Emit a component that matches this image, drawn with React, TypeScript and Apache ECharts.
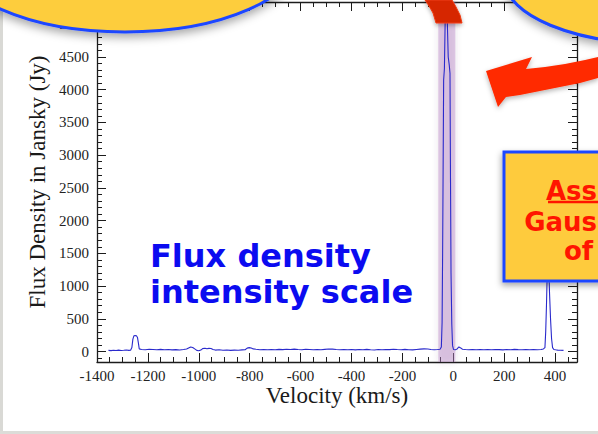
import React, { useEffect, useRef } from 'react';
import * as echarts from 'echarts';

// Spectrum: velocity (km/s) and flux density (Jy)
const velocity = [
  -1355, -1345, -1335, -1325, -1315, -1305, -1295, -1285, -1275, -1268,
  -1263, -1259, -1255, -1250, -1245, -1241, -1237, -1234,
  -1225, -1210, -1195, -1180, -1165, -1150, -1135, -1120, -1105, -1090, -1075, -1060,
  -1048, -1040, -1032, -1024, -1016, -1008, -1000, -992, -985, -976, -968, -960, -952, -944,
  -935, -920, -905, -890, -875, -860, -845, -830, -818, -810, -802, -794, -786, -775,
  -760, -745, -730, -715, -700, -685, -670, -655, -640, -625, -610, -595, -580, -565,
  -550, -535, -520, -505, -490, -475, -460, -445, -430, -415, -400, -385, -370, -355,
  -340, -325, -310, -295, -280, -265, -250, -235, -220, -205, -190, -175, -160, -145,
  -130, -115, -100, -88, -75, -62, -52,
  -47, -44, -42, -40, -38, -35, -32, -28, -24, -20, -16, -13, -11, -9, -6, -3,
  1, 8, 15, 22, 29, 36, 48, 60, 75, 90, 105, 120, 135, 150, 165, 180, 195, 210,
  225, 240, 255, 270, 285, 300, 315, 330, 345, 354,
  360, 363, 366, 369, 372, 375, 378, 382, 386, 390, 395, 402, 410, 420, 433,
];
const flux = [
  18, 14, 20, 16, 22, 15, 19, 24, 17, 20,
  60, 190, 240, 245, 240, 215, 120, 40,
  32, 28, 34, 30, 26, 33, 27, 31, 25, 29, 24, 30,
  38, 55, 70, 62, 40, 18, 12, 22, 45, 50, 42, 48, 46, 30,
  22, 26, 20, 24, 18, 22, 19, 25, 28, 52, 60, 55, 40, 34,
  28, 32, 26, 30, 27, 33, 29, 34, 30, 36, 31, 28, 34, 30,
  26, 32, 28, 33, 38, 36, 30, 26, 32, 28, 30, 25, 31, 27,
  33, 28, 24, 30, 26, 32, 29, 34, 30, 27, 33, 28, 25, 31,
  36, 40, 38, 30, 26, 30, 34,
  70, 450, 1500, 2800, 4150, 4320, 5050, 5180, 5100, 4500, 4380, 4250, 2600, 1200, 420, 90,
  30, 28, 40, 70, 55, 35, 30, 26, 32, 28, 31, 26, 30, 27, 32, 29, 25, 30,
  27, 33, 29, 26, 30, 27, 31, 26, 30, 40,
  60, 300, 700, 1200, 1700, 1300, 900, 500, 200, 60, 30, 26, 22, 20, 18,
];

const xMajorTicks = [-1400, -1200, -1000, -800, -600, -400, -200, 0, 200, 400];
const yMajorTicks = [0, 500, 1000, 1500, 2000, 2500, 3000, 3500, 4000, 4500, 5000];
const X_MIN = -1400;
const X_MAX = 486;
const Y_MIN = -160;
const Y_MAX = 5340;
const X_MINOR_STEP = 50;
const Y_MINOR_STEP = 100;

// Highlighted velocity band (km/s)
const bandFrom = -59;
const bandTo = 8;

const xMinorTicks: number[] = [];
for (let v = X_MIN; v < X_MAX; v += X_MINOR_STEP) xMinorTicks.push(v);
const yMinorTicks: number[] = [];
for (let v = -100; v < Y_MAX; v += Y_MINOR_STEP) yMinorTicks.push(v);

const INK = '#1c1c1c';
const labelFont = { fontFamily: '"Liberation Serif", "Times New Roman", serif', fontSize: 15, color: '#222' };
const nameFont = { fontFamily: '"Liberation Serif", "Times New Roman", serif', fontSize: 23, color: '#1a1a1a' };

function mkX(position: 'top' | 'bottom', major: boolean, labels: boolean) {
  return {
    type: 'value',
    min: X_MIN,
    max: X_MAX,
    position,
    gridIndex: 0,
    name: labels ? 'Velocity (km/s)' : '',
    nameLocation: 'middle',
    nameGap: 22,
    nameMoveOverlap: false,
    nameTextStyle: nameFont,
    axisLine: { show: major, onZero: false, lineStyle: { color: INK, width: 1.3 } },
    axisTick: {
      show: true,
      inside: true,
      length: major ? 9 : 5,
      customValues: major ? xMajorTicks : xMinorTicks,
      lineStyle: { color: INK, width: 1 },
    },
    axisLabel: {
      show: labels,
      customValues: xMajorTicks,
      formatter: (v: number) => String(v),
      margin: 6,
      ...labelFont,
    },
    splitLine: { show: false },
  };
}

function mkY(position: 'left' | 'right', major: boolean, labels: boolean) {
  return {
    type: 'value',
    min: Y_MIN,
    max: Y_MAX,
    position,
    gridIndex: 0,
    name: labels ? 'Flux Density in Jansky (Jy)' : '',
    nameLocation: 'middle',
    nameGap: 48,
    nameMoveOverlap: false,
    nameTextStyle: nameFont,
    axisLine: { show: major, onZero: false, lineStyle: { color: INK, width: 1.3 } },
    axisTick: {
      show: true,
      inside: true,
      length: major ? 9 : 5,
      customValues: major ? yMajorTicks : yMinorTicks,
      lineStyle: { color: INK, width: 1 },
    },
    axisLabel: {
      show: labels,
      customValues: yMajorTicks,
      formatter: (v: number) => String(v),
      margin: 8,
      ...labelFont,
    },
    splitLine: { show: false },
  };
}

const YELLOW = '#FDCD3C';
const BLUE_EDGE = '#1E46FF';
const SHADOW = 'rgba(0,0,0,0.35)';
const BOX_FONT = '"DejaVu Sans", Verdana, sans-serif';

export default function App() {
  const ref = useRef<HTMLDivElement>(null);
  useEffect(() => {
    if (!ref.current) return;
    const chart = echarts.init(ref.current, undefined, { renderer: 'svg' });
    chart.setOption({
      animation: false,
      backgroundColor: '#ffffff',
      grid: { left: 97, right: 21, top: 2, bottom: 72, outerBoundsMode: 'none' },
      xAxis: [mkX('bottom', true, true), mkX('bottom', false, false), mkX('top', true, false), mkX('top', false, false)],
      yAxis: [mkY('left', true, true), mkY('left', false, false), mkY('right', true, false), mkY('right', false, false)],
      series: [
        {
          type: 'line',
          xAxisIndex: 0,
          yAxisIndex: 0,
          data: velocity.map((v, i) => [v, flux[i]]),
          showSymbol: false,
          symbol: 'none',
          lineStyle: { color: '#2A2ACC', width: 1.1 },
          z: 2,
        },
        {
          type: 'line',
          xAxisIndex: 0,
          yAxisIndex: 0,
          data: [],
          z: 5,
          markArea: {
            silent: true,
            itemStyle: {
              color: 'rgba(185,135,200,0.42)',
              shadowBlur: 6,
              shadowColor: 'rgba(90,60,100,0.35)',
            },
            data: [[{ xAxis: bandFrom }, { xAxis: bandTo }]],
          },
        },
      ],
      graphic: [
        // slide frame
        { type: 'rect', z: 1, shape: { x: 0, y: 0, width: 3, height: 434 }, style: { fill: '#D9D9D5' } },
        { type: 'rect', z: 1, shape: { x: 0, y: 431, width: 598, height: 3 }, style: { fill: '#DCDCD8' } },
        // top-left callout
        {
          type: 'ellipse', z: 100,
          shape: { cx: 125, cy: -45, rx: 175, ry: 77 },
          style: { fill: YELLOW, stroke: BLUE_EDGE, lineWidth: 3, shadowBlur: 10, shadowOffsetY: 4, shadowColor: SHADOW },
        },
        // top-right callout
        {
          type: 'ellipse', z: 100,
          shape: { cx: 660, cy: -20, rx: 155, ry: 64 },
          style: { fill: YELLOW, stroke: BLUE_EDGE, lineWidth: 3, shadowBlur: 10, shadowOffsetY: 4, shadowColor: SHADOW },
        },
        // top red arrow end
        {
          type: 'polygon', z: 101,
          shape: { points: [[425, 0], [429, 6], [433, 13], [436, 23], [462, 23], [460, 15], [456, 7], [452, 0]] },
          style: { fill: '#D62600', stroke: '#F03A10', lineWidth: 1, shadowBlur: 4, shadowOffsetY: 2, shadowColor: 'rgba(0,0,0,0.3)' },
        },
        // right red curved arrow
        {
          type: 'polygon', z: 101,
          shape: {
            points: [
              [486, 71], [532, 57], [526, 69], [545, 67], [565, 64], [585, 60], [598, 57],
              [598, 78], [580, 83], [560, 87], [540, 91], [520, 95], [506, 97], [498, 107],
            ],
          },
          style: { fill: '#FF2A00', shadowBlur: 5, shadowOffsetY: 2, shadowColor: 'rgba(0,0,0,0.3)' },
        },
        // right yellow box
        {
          type: 'rect', z: 100,
          shape: { x: 504, y: 152, width: 110, height: 129 },
          style: { fill: '#FECB3C', stroke: BLUE_EDGE, lineWidth: 3, shadowBlur: 6, shadowOffsetX: -1, shadowOffsetY: 3, shadowColor: SHADOW },
        },
        {
          type: 'text', z: 102,
          style: { text: 'Ass', x: 597, y: 191, fontFamily: BOX_FONT, fontWeight: 'bold', fontSize: 26, fill: '#FF1500', align: 'right', verticalAlign: 'middle' },
        },
        {
          type: 'line', z: 102,
          shape: { x1: 548, y1: 202, x2: 598, y2: 202 },
          style: { stroke: '#FF1500', lineWidth: 2.5 },
        },
        {
          type: 'text', z: 102,
          style: { text: 'Gaus', x: 597, y: 222, fontFamily: BOX_FONT, fontWeight: 'bold', fontSize: 26, fill: '#FF1500', align: 'right', verticalAlign: 'middle' },
        },
        {
          type: 'text', z: 102,
          style: { text: 'of', x: 564, y: 251, fontFamily: BOX_FONT, fontWeight: 'bold', fontSize: 26, fill: '#FF1500', align: 'left', verticalAlign: 'middle' },
        },
        // blue caption
        {
          type: 'text', z: 102,
          style: { text: 'Flux density', x: 150, y: 256, fontFamily: BOX_FONT, fontWeight: 'bold', fontSize: 32, fill: '#0B0BF0', align: 'left', verticalAlign: 'middle' },
        },
        {
          type: 'text', z: 102,
          style: { text: 'intensity scale', x: 150, y: 292, fontFamily: BOX_FONT, fontWeight: 'bold', fontSize: 32, fill: '#0B0BF0', align: 'left', verticalAlign: 'middle' },
        },
      ],
    });
    return () => chart.dispose();
  }, []);
  return <div ref={ref} style={{ position: 'fixed', left: 0, top: 0, width: 598, height: 434 }} />;
}
